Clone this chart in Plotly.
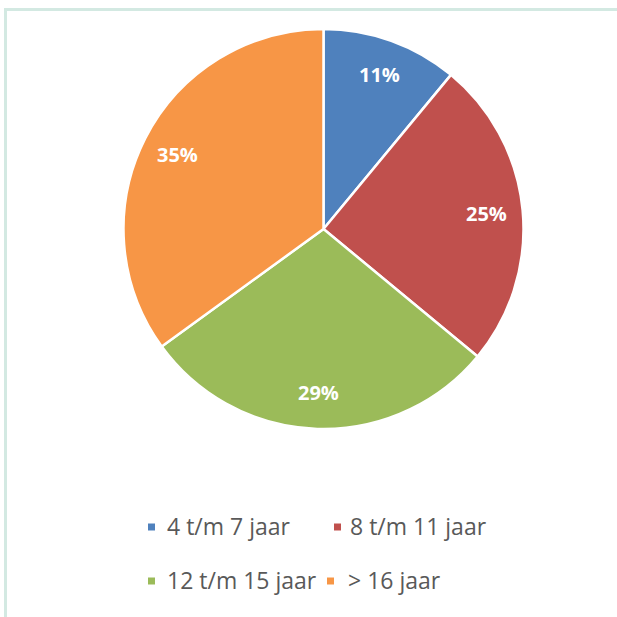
import math
import plotly.graph_objects as go

categories = ["4 t/m 7 jaar", "8 t/m 11 jaar", "12 t/m 15 jaar", "> 16 jaar"]
values = [11, 25, 29, 35]
colors = ["#4F81BD", "#C0504D", "#9BBB59", "#F79646"]

W = H = 617
# pie geometry in pixels
cx, cy, r = 323.5, 229, 200

fig = go.Figure()
fig.add_trace(go.Pie(
    labels=categories,
    values=values,
    sort=False,
    direction="clockwise",
    rotation=0,
    marker=dict(colors=colors, line=dict(color="white", width=2.5)),
    textinfo="none",
    domain=dict(x=[(cx - r) / W, (cx + r) / W], y=[1 - (cy + r) / H, 1 - (cy - r) / H]),
    showlegend=False,
    hoverinfo="label+percent",
))

shapes = []
annotations = []

# percentage labels placed at the middle angle of each slice
total = sum(values)
cum = 0
k = 0.82
for v in values:
    mid = (cum + v / 2) / total * 2 * math.pi
    cum += v
    lx = cx + k * r * math.sin(mid)
    ly = cy - k * r * math.cos(mid)
    annotations.append(dict(text=f"{round(100 * v / total)}%", xref="paper", yref="paper",
                            x=lx / W, y=1 - ly / H, xanchor="center", yanchor="middle",
                            showarrow=False,
                            font=dict(family="Open Sans", size=20, color="white", weight="bold")))

# legend drawn as markers + text, two rows
legend_pos = [(151.5, 527), (337.5, 527), (151.5, 581), (330.5, 581)]
text_x = [164.5, 347.5, 164.5, 345.5]
for cat, col, (mx, my), tx in zip(categories, colors, legend_pos, text_x):
    shapes.append(dict(type="rect", xref="paper", yref="paper",
                       x0=(mx - 3.5) / W, x1=(mx + 3.5) / W,
                       y0=1 - (my + 3.5) / H, y1=1 - (my - 3.5) / H,
                       fillcolor=col, line=dict(width=0)))
    annotations.append(dict(text=cat, xref="paper", yref="paper",
                            x=tx / W, y=1 - (my - 1) / H,
                            xanchor="left", yanchor="middle", showarrow=False,
                            font=dict(family="Open Sans", size=23, color="#595959")))

# chart frame (top and left edges)
frame_col = "#D3E9E2"
shapes.append(dict(type="rect", xref="paper", yref="paper",
                   x0=4 / W, x1=1, y0=1 - 11 / H, y1=1 - 8 / H,
                   fillcolor=frame_col, line=dict(width=0)))
shapes.append(dict(type="rect", xref="paper", yref="paper",
                   x0=4 / W, x1=7 / W, y0=0, y1=1 - 8 / H,
                   fillcolor=frame_col, line=dict(width=0)))

fig.update_layout(
    width=W, height=H,
    margin=dict(l=0, r=0, t=0, b=0),
    paper_bgcolor="white",
    plot_bgcolor="white",
    shapes=shapes,
    annotations=annotations,
)

fig.write_html("out.html", config={"displayModeBar": False},
               post_script="document.body.style.margin='0';document.body.style.overflow='hidden';")
